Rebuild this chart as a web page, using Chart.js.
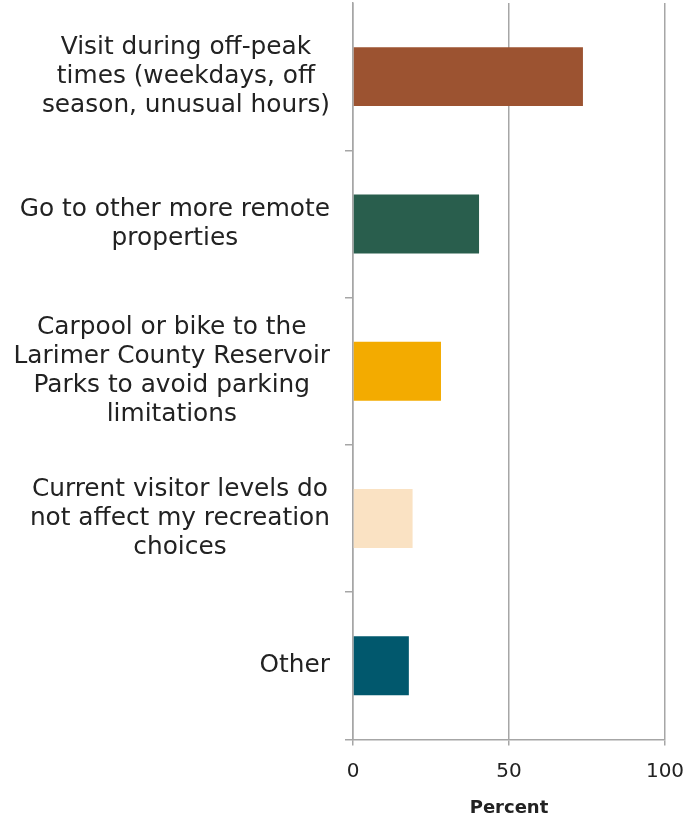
<!DOCTYPE html>
<html>
<head>
<meta charset="utf-8">
<script src="https://cdn.jsdelivr.net/npm/chart.js@4/dist/chart.umd.min.js"></script>
<style>
  html, body { margin: 0; padding: 0; background: #fff; }
  #wrap { width: 699px; height: 819px; }
</style>
</head>
<body>
<div id="wrap"><canvas id="chart"></canvas></div>
<script>
// Datos del gráfico
const categories = [
    ['Visit during off-peak', 'times (weekdays, off', 'season, unusual hours)'],
    ['Go to other more remote', 'properties'],
    ['Carpool or bike to the', 'Larimer County Reservoir', 'Parks to avoid parking', 'limitations'],
    ['Current visitor levels do', 'not affect my recreation', 'choices'],
    ['Other']
];
const values = [73.7, 40.4, 28.2, 19.1, 17.9];
const barColors = ['#9c5331', '#295e4d', '#f3ab00', '#fae2c3', '#01586d'];
const xTicks = [0, 50, 100];

const gridColor = '#a6a6a6';
const textColor = '#222222';

// Etiquetas del eje Y: bloque alineado a la derecha, líneas centradas
const yLabelPlugin = {
    id: 'yLabels',
    afterDraw(chart) {
        const ctx = chart.ctx;
        const yScale = chart.scales.y;
        const lineH = 29;
        const right = chart.chartArea.left - 23;
        ctx.save();
        ctx.font = '24.8px "DejaVu Sans"';
        ctx.fillStyle = textColor;
        ctx.textAlign = 'center';
        ctx.textBaseline = 'middle';
        categories.forEach((lines, i) => {
            const cy = yScale.getPixelForValue(i);
            const maxW = Math.max(...lines.map(l => ctx.measureText(l).width));
            const cx = right - maxW / 2;
            const y0 = cy - (lines.length - 1) * lineH / 2;
            lines.forEach((l, j) => ctx.fillText(l, cx, y0 + j * lineH));
        });
        ctx.restore();
    }
};

new Chart(document.getElementById('chart').getContext('2d'), {
    type: 'bar',
    data: {
        labels: categories,
        datasets: [{
            data: values,
            backgroundColor: barColors,
            borderWidth: 0,
            categoryPercentage: 1,
            barPercentage: 0.4
        }]
    },
    options: {
        indexAxis: 'y',
        responsive: true,
        maintainAspectRatio: false,
        animation: false,
        layout: { padding: { left: 0, right: 34, top: 3, bottom: 0 } },
        plugins: {
            legend: { display: false },
            tooltip: { enabled: false }
        },
        scales: {
            x: {
                min: 0,
                max: 100,
                afterBuildTicks: s => { s.ticks = xTicks.map(v => ({ value: v })); },
                grid: {
                    color: gridColor,
                    lineWidth: 1.5,
                    tickLength: 6,
                    tickColor: gridColor
                },
                border: { display: true, color: gridColor, width: 1.5 },
                ticks: {
                    color: textColor,
                    font: { family: 'DejaVu Sans', size: 20 },
                    padding: 14,
                    maxRotation: 0
                },
                title: {
                    display: true,
                    text: 'Percent',
                    color: textColor,
                    font: { family: 'DejaVu Sans', size: 18, weight: 'bold' },
                    padding: { top: 0, bottom: 0 }
                }
            },
            y: {
                afterFit: s => { s.width = 353; },
                grid: {
                    drawOnChartArea: false,
                    offset: true,
                    tickLength: 8,
                    color: gridColor,
                    tickColor: c => c.index === 0 ? 'rgba(0,0,0,0)' : gridColor,
                    lineWidth: 1.5
                },
                border: { display: true, color: gridColor, width: 1.5 },
                ticks: { display: false }
            }
        }
    },
    plugins: [yLabelPlugin]
});
</script>
</body>
</html>
